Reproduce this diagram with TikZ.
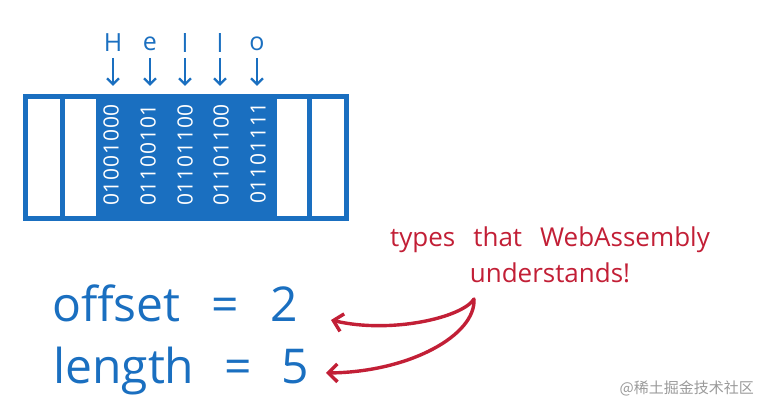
\documentclass[tikz,border=0pt]{standalone}
\usepackage{fontspec}
\setmainfont{Open Sans}
\newfontfamily\cjk{Noto Sans CJK SC}
\usetikzlibrary{arrows.meta}
\definecolor{wblue}{HTML}{1A6FC0}
\definecolor{wred}{HTML}{C21F36}
\definecolor{wgrey}{HTML}{9A9A9A}
\tikzset{
  memline/.style={draw=wblue, line width=5pt},
  letter/.style={text=wblue, font=\fontsize{25}{25}\selectfont, inner sep=0pt},
  bits/.style={text=white, font=\fontsize{21}{21}\selectfont\addfontfeature{LetterSpace=4}, rotate=90, inner sep=0pt},
  harrow/.style={draw=wblue, line width=2.4pt, -{Straight Barb[length=6pt,width=12pt,line width=2.4pt]}},
  bigtext/.style={text=wblue, font=\fontsize{48}{48}\selectfont, inner sep=0pt, anchor=base west},
  note/.style={text=wred, font=\fontsize{26}{26}\selectfont, inner sep=0pt},
  rarrow/.style={draw=wred, line width=3.4pt, line cap=round, -{Straight Barb[length=9pt,width=18pt,line width=3.4pt]}},
}
\begin{document}
\begin{tikzpicture}[x=1pt,y=-1pt]
\useasboundingbox (0,0) rectangle (768,411);
% memory
\fill[wblue] (96,96) rectangle (277,220);
\draw[memline] (25,97) rectangle (346,219);
\draw[memline] (62,97) -- (62,219);
\draw[memline] (309,97) -- (309,219);
% bits
\node[bits] (b1) at (111,155) {01001000};
\node[bits] (b2) at (148,155) {01100101};
\node[bits] (b3) at (185,155) {01101100};
\node[bits] (b4) at (221,155) {01101100};
\node[bits] (b5) at (258,153) {01101111};
% letters
\node[letter] (h1) at (113,43) {H};
\node[letter] (h2) at (150,44) {e};
\node[letter] (h3) at (185,43) {l};
\node[letter] (h4) at (220,43) {l};
\node[letter] (h5) at (257,44) {o};
\foreach \i in {1,...,5}{
  \coordinate (s\i) at (h\i |- 0,58);
  \coordinate (e\i) at (h\i |- 0,86);
  \draw[harrow] (s\i) -- (e\i);
}
% values
\node[bigtext] (off) at (52,322) {offset\kern31pt=\kern32pt 2};
\node[bigtext] (len) at (53,383) {length\kern30pt=\kern30pt 5};
% note
\node[note] (n1) at (550,240) {types\kern18pt that\kern18pt WebAssembly};
\node[note] (n2) at (550,273) {understands!};
\coordinate (src) at (474,299);
\coordinate (t1) at (331,320);
\coordinate (t2) at (326,373);
\draw[rarrow] (src) .. controls (462,318) and (390,334) .. (t1);
\draw[rarrow] (src) .. controls (476,335) and (410,372) .. (t2);
% watermark
\node[text=wgrey, font=\cjk\fontsize{15}{15}\selectfont, inner sep=0pt, anchor=east] (wm) at (754,388) {@稀土掘金技术社区};
\end{tikzpicture}
\end{document}
